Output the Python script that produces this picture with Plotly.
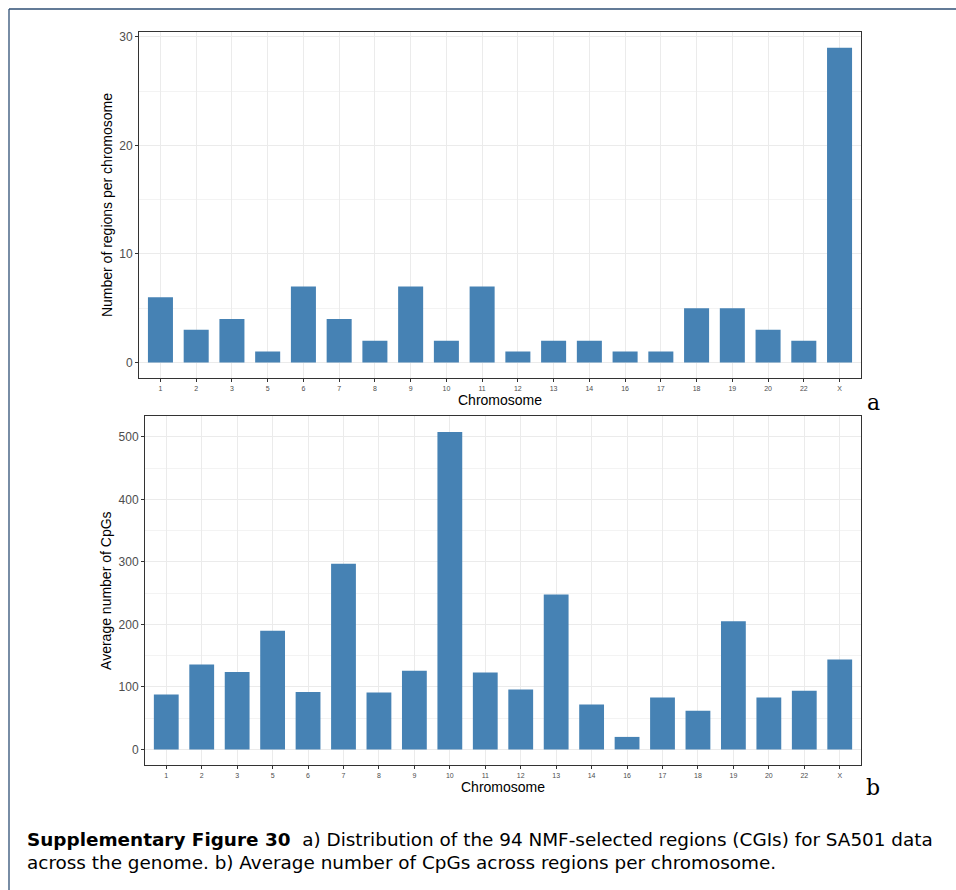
import plotly.graph_objects as go

chromosomes = ["1", "2", "3", "5", "6", "7", "8", "9", "10", "11",
               "12", "13", "14", "16", "17", "18", "19", "20", "22", "X"]
regions_per_chrom = [6, 3, 4, 1, 7, 4, 2, 7, 2, 7,
                     1, 2, 2, 1, 1, 5, 5, 3, 2, 29]
avg_cpgs = [88, 136, 124, 190, 92, 297, 91, 126, 508, 123,
            96, 248, 72, 20, 83, 62, 205, 83, 94, 144]

W, H = 956, 890
BAR = "#4682b4"
GRID = "#ebebeb"
BORDER = "#333333"
SANS = "Liberation Sans, Arial, sans-serif"


def px(x):
    return x / W


def py(y):
    return 1 - y / H


fig = go.Figure()
fig.add_trace(go.Bar(x=chromosomes, y=regions_per_chrom, marker_color=BAR,
                     marker_line_width=0, width=0.7, xaxis="x", yaxis="y",
                     showlegend=False))
fig.add_trace(go.Bar(x=chromosomes, y=avg_cpgs, marker_color=BAR,
                     marker_line_width=0, width=0.7, xaxis="x2", yaxis="y2",
                     showlegend=False))

xcommon = dict(type="category", categoryorder="array", categoryarray=chromosomes,
               range=[-0.6, len(chromosomes) - 0.4], showgrid=True, gridcolor=GRID,
               gridwidth=1, showline=True, mirror=True, linecolor=BORDER, linewidth=1,
               ticks="outside", ticklen=3, tickcolor=BORDER,
               tickfont=dict(family=SANS, size=7, color="#4d4d4d"),
               title=dict(text="Chromosome", standoff=2,
                          font=dict(family=SANS, size=14, color="#000")),
               zeroline=False, fixedrange=True)
ycommon = dict(showgrid=True, gridcolor=GRID, gridwidth=1, showline=True, mirror=True,
               linecolor=BORDER, linewidth=1, ticks="outside", ticklen=3, tickcolor=BORDER,
               tickfont=dict(family=SANS, size=12, color="#4d4d4d"),
               zeroline=False, fixedrange=True)

fig.update_layout(
    width=W, height=H, margin=dict(l=0, r=0, t=0, b=0),
    paper_bgcolor="white", plot_bgcolor="white", bargap=0.3,
    xaxis=dict(xcommon, domain=[px(139), px(861)], anchor="y"),
    yaxis=dict(ycommon, domain=[py(377), py(30)], anchor="x",
               range=[-1.45, 30.45], tickvals=[0, 10, 20, 30],
               minor=dict(showgrid=True, gridcolor="#f3f3f3", dtick=5, tick0=5, ticks=""),
               title=dict(text="Number of regions per chromosome", standoff=3,
                          font=dict(family=SANS, size=14, color="#000"))),
    xaxis2=dict(xcommon, domain=[px(145), px(861)], anchor="y2"),
    yaxis2=dict(ycommon, domain=[py(765), py(415)], anchor="x2",
                range=[-25.4, 533.4], tickvals=[0, 100, 200, 300, 400, 500],
                minor=dict(showgrid=True, gridcolor="#f3f3f3", dtick=50, tick0=50, ticks=""),
                title=dict(text="Average number of CpGs", standoff=3,
                           font=dict(family=SANS, size=14, color="#000"))),
)

# page border (top and left edges)
fig.add_shape(type="line", xref="paper", yref="paper", x0=px(9), x1=1, y0=py(7), y1=py(7),
              line=dict(color="#2f4f75", width=1.3))
fig.add_shape(type="line", xref="paper", yref="paper", x0=px(9), x1=px(9), y0=py(7), y1=0,
              line=dict(color="#2f4f75", width=1.3))

# panel letters
for letter, yy in [("a", 401), ("b", 787)]:
    fig.add_annotation(text=letter, xref="paper", yref="paper", x=px(873), y=py(yy),
                       xanchor="center", yanchor="middle", showarrow=False,
                       font=dict(family="DejaVu Serif, Liberation Serif", size=22, color="#000"))

# caption
cap_font = dict(family="DejaVu Sans", size=18.4, color="#000")
fig.add_annotation(
    text="<b>Supplementary Figure 30</b>  a) Distribution of the 94 NMF-selected regions (CGIs) for SA501 data",
    xref="paper", yref="paper", x=px(25), y=py(839), xanchor="left", yanchor="middle",
    showarrow=False, font=cap_font)
fig.add_annotation(
    text="across the genome. b) Average number of CpGs across regions per chromosome.",
    xref="paper", yref="paper", x=px(25), y=py(862), xanchor="left", yanchor="middle",
    showarrow=False, font=cap_font)

fig.write_html("out.html")
